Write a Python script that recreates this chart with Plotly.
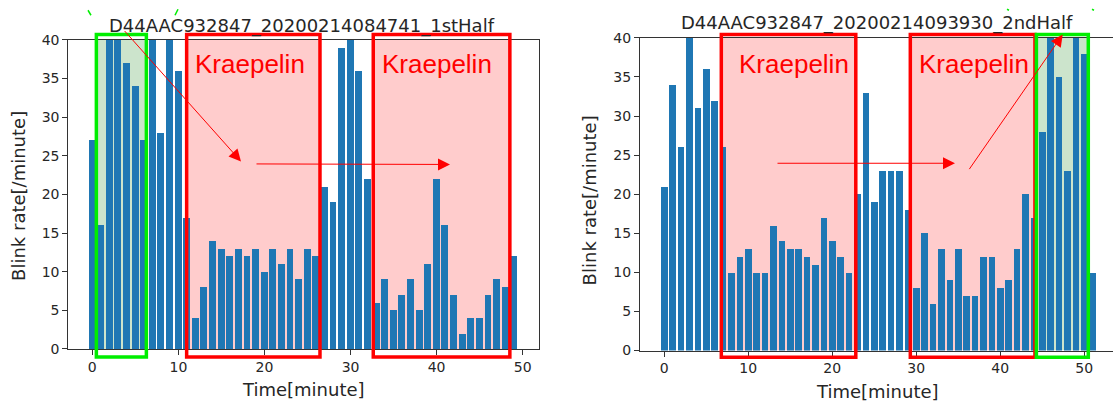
import plotly.graph_objects as go

# ---------------- data ----------------
left_title = "D44AAC932847_20200214084741_1stHalf"
right_title = "D44AAC932847_20200214093930_2ndHalf"
x_label = "Time[minute]"
y_label = "Blink rate[/minute]"
region_label = "Kraepelin"

left_minutes = list(range(50))
left_blink = [27, 16, 40, 40, 37, 34, 27, 40, 28, 40,
              36, 17, 4, 8, 14, 13, 12, 13, 12, 13,
              10, 13, 11, 13, 9, 13, 12, 21, 19, 39,
              40, 36, 22, 6, 9, 5, 7, 9, 5, 11,
              22, 16, 7, 2, 4, 4, 7, 9, 8, 12]

right_minutes = list(range(52))
right_blink = [21, 34, 26, 40, 31, 36, 32, 26, 10, 12,
               13, 10, 10, 16, 14, 13, 13, 12, 11, 17,
               14, 12, 10, 20, 33, 19, 23, 23, 23, 18,
               8, 15, 6, 13, 9, 13, 7, 7, 12, 12,
               8, 9, 13, 20, 17, 28, 40, 35, 23, 40,
               38, 10]

x_ticks = [0, 10, 20, 30, 40, 50]
y_ticks = [0, 5, 10, 15, 20, 25, 30, 35, 40]

# annotated time spans (minutes)
left_rest_span = [(0.47, 6.28)]
left_task_spans = [(10.96, 26.45), (32.64, 48.51)]
right_task_spans = [(6.79, 22.8), (29.29, 44.13)]
right_rest_span = [(44.3, 50.48)]
left_label_x = [11.7, 33.4]
right_label_x = [8.62, 30.08]

# ---------------- layout helpers ----------------
W, H = 1113, 406
Y_SCALE, Y_OFF = 0.9625, 7.0   # observed vertical mapping of the capture


def px(x):
    return x / W


def fy(y):
    # picture y position -> figure pixel y
    return y / Y_SCALE - Y_OFF


def py(y):
    return 1 - fy(y) / H


BAR = "#1f77b4"
RED = "#ff0000"
LIME = "#00ee00"
PINK = "rgb(255,204,204)"
LGREEN = "rgb(204,228,204)"
TXT = "#262626"
SPINE = "#333333"
FONT = "DejaVu Sans"

fig = go.Figure()
fig.add_trace(go.Bar(x=left_minutes, y=left_blink, width=0.8,
                     marker=dict(color=BAR, line=dict(width=0)),
                     xaxis="x", yaxis="y", showlegend=False))
fig.add_trace(go.Bar(x=right_minutes, y=right_blink, width=0.8,
                     marker=dict(color=BAR, line=dict(width=0)),
                     xaxis="x2", yaxis="y2", showlegend=False))

axis_common = dict(showgrid=False, zeroline=False, showline=True,
                   linecolor=SPINE, linewidth=1, ticks="outside",
                   ticklen=5, tickcolor=SPINE, tickwidth=1,
                   tickfont=dict(family=FONT, size=14, color=TXT))

fig.update_layout(
    width=W, height=H,
    margin=dict(l=0, r=0, t=0, b=0),
    paper_bgcolor="white", plot_bgcolor="white",
    bargap=0, hovermode=False,
    xaxis=dict(domain=[px(68.3), px(539.3)], range=[-2.79, 51.93],
               tickvals=x_ticks, mirror=True, anchor="y", **axis_common),
    yaxis=dict(domain=[py(348.3), py(38.7)], range=[0, 40],
               tickvals=y_ticks, mirror=True, anchor="x", **axis_common),
    xaxis2=dict(domain=[px(640), 1.0], range=[-2.89, 53.42],
                tickvals=x_ticks, mirror=True, anchor="y2", **axis_common),
    yaxis2=dict(domain=[py(350), py(36.7)], range=[0, 40],
                tickvals=y_ticks, mirror=False, anchor="x2", **axis_common),
)

shapes = []


def add_region(xref, yref, span, fill, edge, top, bottom):
    x0, x1 = span
    shapes.append(dict(type="rect", xref=xref, yref=yref, x0=x0, x1=x1,
                       y0=0, y1=40, fillcolor=fill, line=dict(width=0),
                       layer="below"))
    shapes.append(dict(type="rect", xref=xref, yref="paper", x0=x0, x1=x1,
                       y0=py(bottom), y1=py(top), fillcolor="rgba(0,0,0,0)",
                       line=dict(color=edge, width=3.5), layer="above"))


for s in left_rest_span:
    add_region("x", "y", s, LGREEN, LIME, 33.2, 356.5)
for s in left_task_spans:
    add_region("x", "y", s, PINK, RED, 33.2, 356.5)
for s in right_task_spans:
    add_region("x2", "y2", s, PINK, RED, 33.3, 356.7)
for s in right_rest_span:
    add_region("x2", "y2", s, LGREEN, LIME, 33.3, 356.7)

# small green marks at the top edge (cropped remnants)
for (xa, ya, xb, yb) in [(88, 9, 91, 14), (178, 8, 175, 14),
                         (1007, 8, 1009, 9), (1092, 8, 1094, 9)]:
    shapes.append(dict(type="line", xref="paper", yref="paper",
                       x0=px(xa), y0=py(ya), x1=px(xb), y1=py(yb),
                       line=dict(color=LIME, width=1.5)))

fig.update_layout(shapes=shapes)

ann = []
# titles
ann.append(dict(text=left_title, xref="paper", yref="paper", x=px(302),
                y=py(25), xanchor="center", yanchor="middle", showarrow=False,
                font=dict(family=FONT, size=18, color=TXT)))
ann.append(dict(text=right_title, xref="paper", yref="paper", x=px(877),
                y=py(21.5), xanchor="center", yanchor="middle", showarrow=False,
                font=dict(family=FONT, size=18, color=TXT)))
# axis titles
ann.append(dict(text=x_label, xref="paper", yref="paper", x=px(303.5),
                y=py(389), xanchor="center", yanchor="middle", showarrow=False,
                font=dict(family=FONT, size=18, color=TXT)))
ann.append(dict(text=x_label, xref="paper", yref="paper", x=px(877),
                y=py(391), xanchor="center", yanchor="middle", showarrow=False,
                font=dict(family=FONT, size=18, color=TXT)))
ann.append(dict(text=y_label, xref="paper", yref="paper", x=px(19),
                y=py(195), xanchor="center", yanchor="middle", showarrow=False,
                textangle=-90, font=dict(family=FONT, size=18, color=TXT)))
ann.append(dict(text=y_label, xref="paper", yref="paper", x=px(589.5),
                y=py(200), xanchor="center", yanchor="middle", showarrow=False,
                textangle=-90, font=dict(family=FONT, size=18, color=TXT)))
# Kraepelin labels
for xv in left_label_x:
    ann.append(dict(text=region_label, xref="x", yref="paper", x=xv,
                    y=py(63), xanchor="left", yanchor="middle",
                    showarrow=False,
                    font=dict(family="Liberation Sans", size=26, color=RED)))
for xv in right_label_x:
    ann.append(dict(text=region_label, xref="x2", yref="paper", x=xv,
                    y=py(63), xanchor="left", yanchor="middle",
                    showarrow=False,
                    font=dict(family="Liberation Sans", size=26, color=RED)))

# arrows (tail -> head, in pixel positions of the picture)
arrows = [((123.3, 33.5), (241.0, 160.5)),
          ((255.0, 163.0), (450.0, 163.5)),
          ((776.0, 162.3), (955.0, 162.3)),
          ((968.3, 164.3), (1062.7, 33.3))]
for (tx, ty), (hx, hy) in arrows:
    ann.append(dict(text="", xref="paper", yref="paper", x=px(hx), y=py(hy),
                    ax=tx - hx, ay=fy(ty) - fy(hy), axref="pixel",
                    ayref="pixel", showarrow=True, arrowhead=2,
                    arrowsize=2.4, arrowwidth=1, arrowcolor=RED, standoff=0))

fig.update_layout(annotations=ann)

# page without the default body margin so the figure fills the window
page_fix = ("document.body.style.margin='0';"
            "document.documentElement.style.overflow='hidden';"
            "document.body.style.overflow='hidden';")
fig.write_html("out.html", post_script=page_fix,
               config={"displayModeBar": False})
